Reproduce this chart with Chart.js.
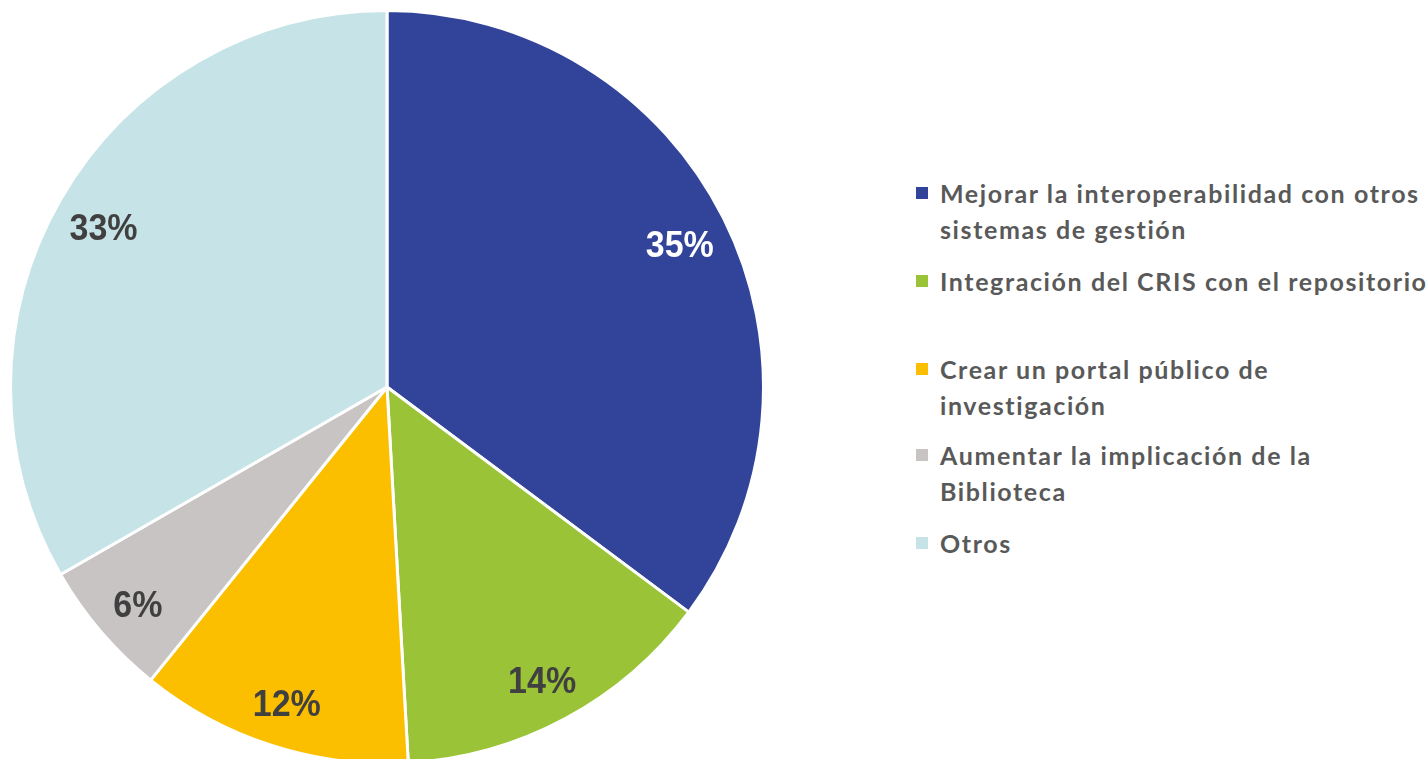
<!DOCTYPE html>
<html lang="es">
<head>
<meta charset="utf-8">
<title>Prioridades CRIS</title>
<script src="https://cdn.jsdelivr.net/npm/chart.js@4/dist/chart.umd.min.js"></script>
<style>
  html, body { margin: 0; padding: 0; background: #fff; overflow: hidden; }
  body { width: 1426px; height: 759px; position: relative; }
  #pieWrap { position: absolute; left: 9px; top: 9px; width: 756px; height: 756px; }
  #legend { position: absolute; left: 0; top: 0; }
  .legend-item { position: absolute; left: 916px; font-family: Lato, "Open Sans", sans-serif; font-weight: bold;
    font-size: 25px; line-height: 36px; letter-spacing: 1.6px; color: #595959; white-space: nowrap; }
  .legend-item .box { position: absolute; left: 0; top: 12px; width: 12px; height: 12px; }
  .legend-item .txt { position: absolute; left: 24px; top: 0; }
</style>
</head>
<body>
<div id="pieWrap"><canvas id="pieChart"></canvas></div>
<div id="legend"></div>
<script>
// Data (shares; labels show rounded percent)
const categories = [
  ['Mejorar la interoperabilidad con otros', 'sistemas de gestión'],
  ['Integración del CRIS con el repositorio'],
  ['Crear un portal público de', 'investigación'],
  ['Aumentar la implicación de la', 'Biblioteca'],
  ['Otros']
];
const values = [35.2, 13.9, 11.7, 5.9, 33.3];
const sliceColors = ['#32449a', '#9bc337', '#fbbf00', '#c8c4c3', '#c6e4e7'];
const labelColors = ['#ffffff', '#404040', '#404040', '#404040', '#404040'];

// Legend rows (top of first line)
const legendTops = [175, 263, 351, 437, 525];

// Percent labels drawn inside each slice
const sliceLabels = {
  id: 'sliceLabels',
  afterDatasetsDraw(chart) {
    const ctx = chart.ctx;
    const meta = chart.getDatasetMeta(0);
    const total = values.reduce((a, b) => a + b, 0);
    ctx.save();
    ctx.font = 'bold 34px "Liberation Sans", Arial, sans-serif';
    ctx.textAlign = 'center';
    ctx.textBaseline = 'middle';
    meta.data.forEach((arc, i) => {
      const p = arc.getProps(['x', 'y', 'startAngle', 'endAngle', 'outerRadius']);
      const mid = (p.startAngle + p.endAngle) / 2;
      const r = p.outerRadius * 0.87;
      ctx.save();
      ctx.translate(p.x + Math.cos(mid) * r, p.y + Math.sin(mid) * r + 7);
      ctx.scale(1, 1.1);
      ctx.fillStyle = labelColors[i];
      ctx.fillText(Math.round(values[i] / total * 100) + '%', 0, 0);
      ctx.restore();
    });
    ctx.restore();
  }
};

const pieCtx = document.getElementById('pieChart').getContext('2d');
const pieChart = new Chart(pieCtx, {
  type: 'pie',
  data: {
    labels: categories.map(c => c.join(' ')),
    datasets: [{
      data: values,
      backgroundColor: sliceColors,
      borderColor: '#ffffff',
      borderWidth: 3
    }]
  },
  options: {
    responsive: true,
    maintainAspectRatio: false,
    animation: false,
    layout: { padding: 0 },
    plugins: {
      legend: { display: false },
      tooltip: { enabled: false }
    }
  },
  plugins: [sliceLabels]
});

// Build legend
const legendEl = document.getElementById('legend');
let html = '';
categories.forEach((lines, i) => {
  html += `
    <div class="legend-item" style="top:${legendTops[i]}px">
      <span class="box" style="background:${sliceColors[i]}"></span>
      <span class="txt">${lines.join('<br>')}</span>
    </div>
  `;
});
legendEl.innerHTML = html;
</script>
</body>
</html>
